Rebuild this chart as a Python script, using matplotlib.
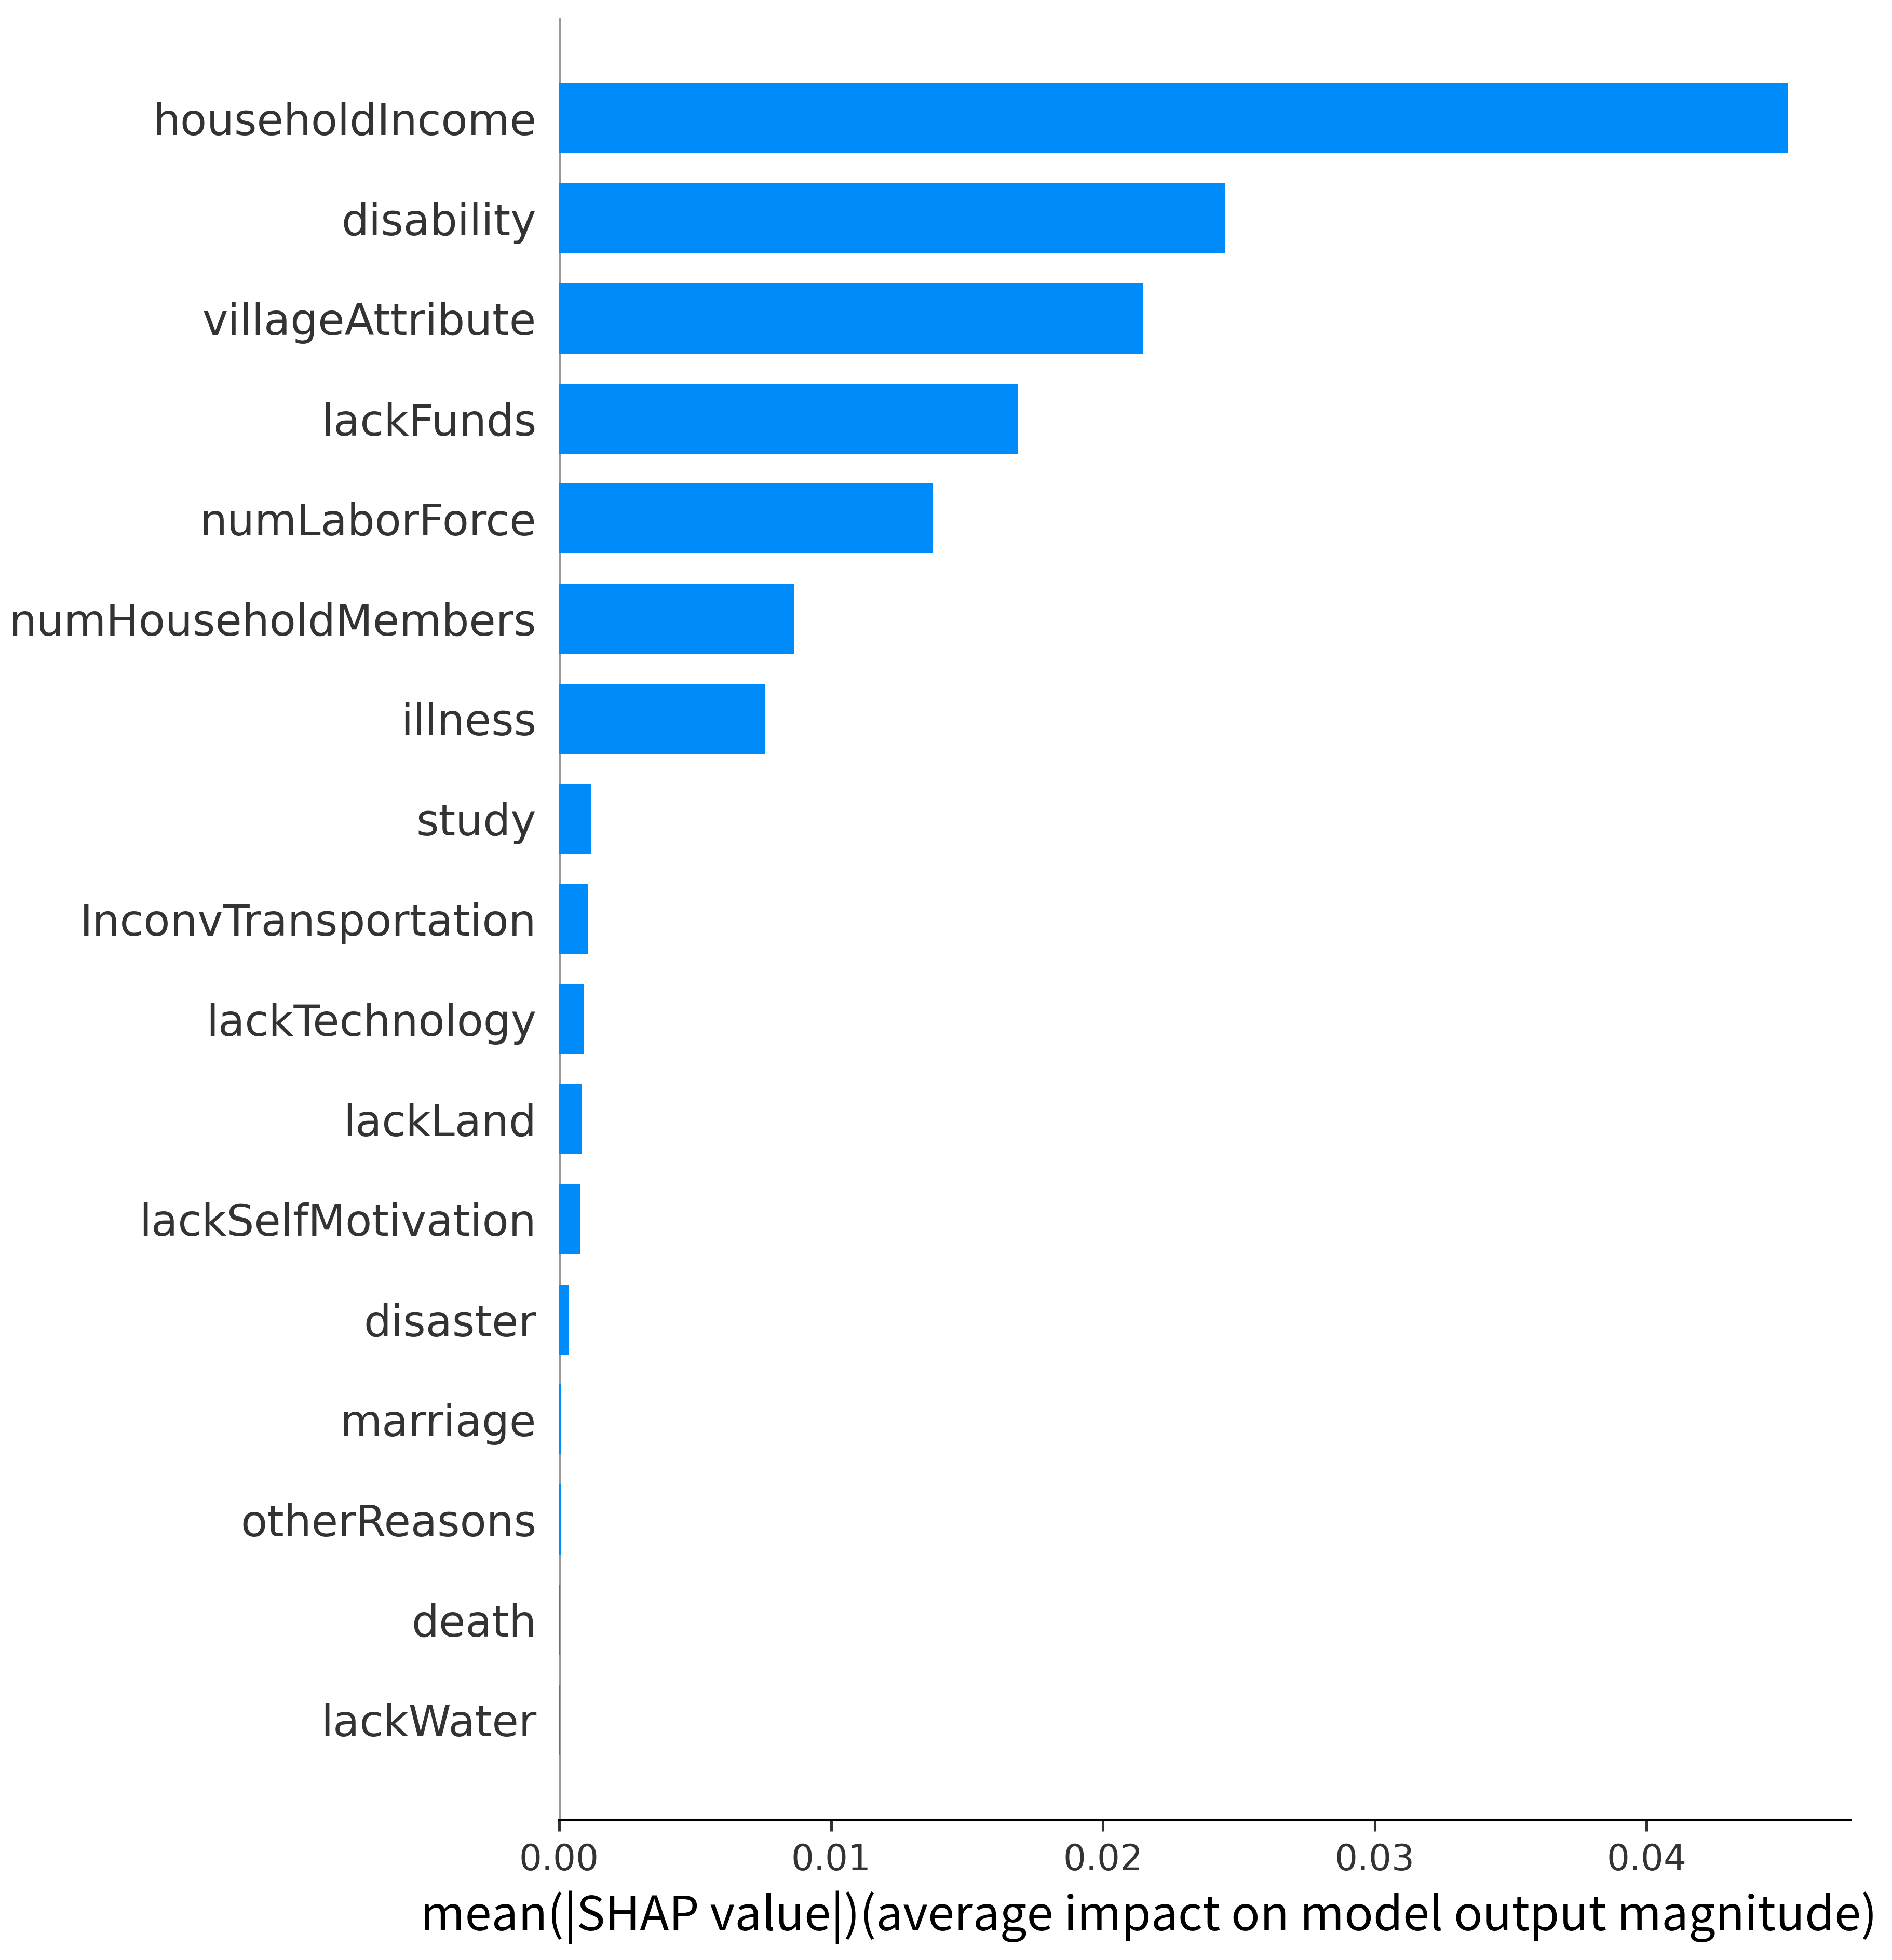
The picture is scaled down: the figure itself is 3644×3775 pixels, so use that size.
import matplotlib
matplotlib.use("Agg")
import matplotlib.pyplot as plt
import numpy as np

features = ["householdIncome", "disability", "villageAttribute", "lackFunds",
            "numLaborForce", "numHouseholdMembers", "illness", "study",
            "InconvTransportation", "lackTechnology", "lackLand",
            "lackSelfMotivation", "disaster", "marriage", "otherReasons",
            "death", "lackWater"]
values = [0.0452, 0.0245, 0.02147, 0.01687, 0.01374, 0.00864, 0.00758,
          0.00118, 0.00107, 0.00089, 0.00084, 0.00078, 0.00035, 0.00008,
          0.00007, 0.00003, 0.00004]
xticks = [0.00, 0.01, 0.02, 0.03, 0.04]
xtick_labels = ["0.00", "0.01", "0.02", "0.03", "0.04"]
xlabel_text = "mean(|SHAP value|)(average impact on model output magnitude)"

W, H, DPI = 3644, 3775, 300
fig = plt.figure(figsize=(W / DPI, H / DPI), dpi=DPI)
ax = fig.add_axes([1077 / W, 1 - 3505 / H, (3564 - 1077) / W, (3505 - 35) / H])

n = len(features)
y_pos = np.arange(n)[::-1]
ax.barh(y_pos, values, 0.7, align="center", color="#008bfb", zorder=2)
ax.axvline(0, color="#999999", linewidth=1.5, zorder=1)

ax.set_ylim(-1, n)
ax.set_xlim(0, 0.0475)
ax.set_yticks(y_pos)
ax.set_yticklabels(features, fontsize=20, color="#333333", family="DejaVu Sans")
ax.set_xticks(xticks)
ax.set_xticklabels(xtick_labels, fontsize=16.6, color="#333333", family="DejaVu Sans")

for s in ["right", "top", "left"]:
    ax.spines[s].set_visible(False)
ax.spines["bottom"].set_linewidth(1.21)
ax.xaxis.set_ticks_position("bottom")
ax.yaxis.set_ticks_position("none")
ax.tick_params(axis="x", length=5.3, width=1.21, pad=5.3, color="#333333")
ax.tick_params(axis="y", pad=7)

lab = ax.set_xlabel(xlabel_text, fontsize=24.5, color="black",
                    family=["Noto Sans CJK SC", "DejaVu Sans"],
                    va="baseline", ha="center")
ax.xaxis.set_label_coords((2213 - 1077) / (3564 - 1077), (3505 - 3718) / (3505 - 35))

# fit label width to the reference's width (~2805 px)
fig.canvas.draw()
wpx = lab.get_window_extent().width
lab.set_fontsize(24.5 * 2805 / wpx)

fig.savefig("out.png", dpi=DPI, facecolor="white")
